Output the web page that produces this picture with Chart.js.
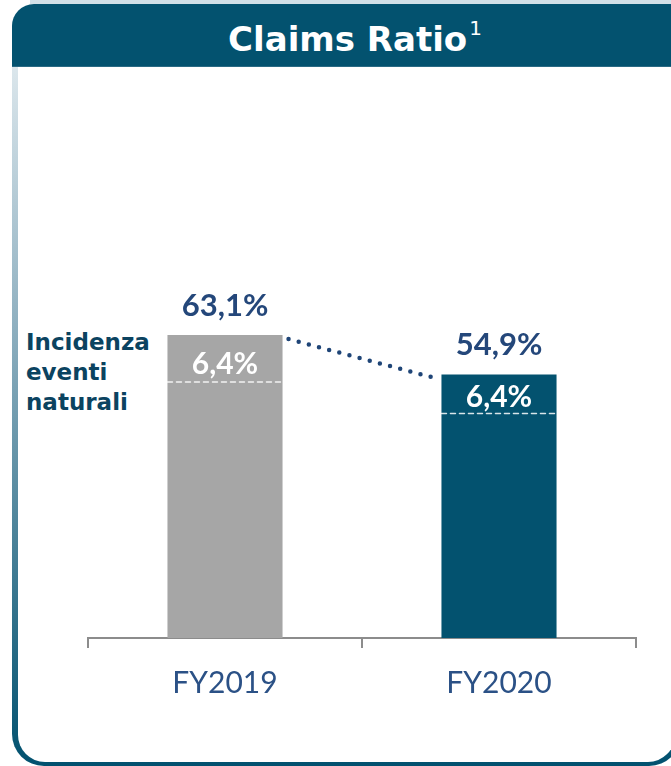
<!DOCTYPE html>
<html>
<head>
<meta charset="utf-8">
<script src="https://cdn.jsdelivr.net/npm/chart.js@4/dist/chart.umd.min.js"></script>
<style>
  html, body { margin: 0; padding: 0; background: #fff; }
  body { width: 671px; height: 766px; position: relative; overflow: hidden; font-family: Lato, "DejaVu Sans", sans-serif; }
  .frame {
    position: absolute; left: 12px; top: 30px; width: 669px; height: 736px;
    background: linear-gradient(to bottom, #e6eef2 0%, #8fb0c0 40%, #01516f 100%);
    border-radius: 0 0 32px 32px;
  }
  .frame-inner {
    position: absolute; left: 6px; top: 0; right: 6px; bottom: 4px;
    background: #fff; border-radius: 0 0 27px 27px;
  }
  .header {
    position: absolute; left: 12px; top: 4px; width: 680px; height: 62px;
    background: #03526f; border-top-left-radius: 22px;
    border-bottom: 1px solid #2a6a84;
  }
  .topline { position: absolute; left: 30px; top: 0; width: 660px; height: 4px; background: #d2e0e8; }
  .title {
    position: absolute; left: 0; top: 4px; width: 710px; height: 62px;
    text-align: center; color: #fff; font-family: "DejaVu Sans", sans-serif; font-weight: 700; font-size: 34px; line-height: 70px;
  }
  .title sup { font-size: 20px; font-weight: 400; vertical-align: 16px; line-height: 0; margin-left: 2px; }
  .side {
    position: absolute; left: 26px; top: 327px; color: #0b4360;
    font-family: "DejaVu Sans", sans-serif; font-weight: 700; font-size: 23px; line-height: 30px;
  }
  #wrap { position: absolute; left: 0; top: 0; width: 671px; height: 766px; }
</style>
</head>
<body>
<div class="frame"><div class="frame-inner"></div></div>
<div class="topline"></div>
<div class="header"></div>
<div class="title">Claims Ratio<sup>1</sup></div>
<div class="side">Incidenza<br>eventi<br>naturali</div>
<div id="wrap"><canvas id="chart"></canvas></div>
<script>
var years = ["FY2019", "FY2020"];
var claimsRatio = [63.1, 54.9];
var naturalEvents = [6.4, 6.4];
var barColors = ["#a6a6a6", "#03526f"];

function fmt(v) {
  return v.toFixed(1).replace(".", ",") + "%";
}

var barLabels = {
  id: "barLabels",
  afterDatasetsDraw: function(chart) {
    var ctx = chart.ctx;
    var bars = chart.getDatasetMeta(0).data;
    var innerOff = [29, 23];
    var dashOff = [47, 39];
    ctx.save();

    // dotted connector between bar tops
    var a = bars[0], b = bars[1];
    ctx.beginPath();
    ctx.strokeStyle = "#1f4577";
    ctx.lineWidth = 4.5;
    ctx.lineCap = "round";
    ctx.setLineDash([0, 10.5]);
    ctx.moveTo(a.x + a.width / 2 + 6, a.y + 4);
    ctx.lineTo(b.x - b.width / 2 - 1, b.y + 5);
    ctx.stroke();
    ctx.setLineDash([]);

    bars.forEach(function(bar, i) {
      ctx.textAlign = "center";
      ctx.textBaseline = "middle";
      ctx.fillStyle = "#24477a";
      ctx.font = "700 31px Lato";
      ctx.fillText(fmt(claimsRatio[i]), bar.x, bar.y - 29);

      ctx.fillStyle = "#ffffff";
      ctx.font = "700 30px Lato";
      ctx.fillText(fmt(naturalEvents[i]), bar.x, bar.y + innerOff[i]);

      ctx.beginPath();
      ctx.strokeStyle = "rgba(255,255,255,0.85)";
      ctx.lineWidth = 1.5;
      ctx.setLineDash([5, 4]);
      ctx.moveTo(bar.x - bar.width / 2, bar.y + dashOff[i]);
      ctx.lineTo(bar.x + bar.width / 2, bar.y + dashOff[i]);
      ctx.stroke();
      ctx.setLineDash([]);
    });
    ctx.restore();
  }
};

new Chart(document.getElementById("chart"), {
  type: "bar",
  data: {
    labels: years,
    datasets: [{
      data: claimsRatio,
      backgroundColor: barColors,
      borderWidth: 0,
      barPercentage: 0.42,
      categoryPercentage: 1.0
    }]
  },
  options: {
    responsive: true,
    maintainAspectRatio: false,
    animation: false,
    events: [],
    layout: { padding: { left: 88, right: 35, top: 110, bottom: 48 } },
    plugins: { legend: { display: false }, tooltip: { enabled: false } },
    scales: {
      y: { display: false, min: 0, max: 110 },
      x: {
        offset: true,
        grid: { offset: true, drawOnChartArea: false, drawTicks: true, tickLength: 10, color: "#8c8c8c", lineWidth: 2 },
        border: { display: true, color: "#8c8c8c", width: 2 },
        ticks: { color: "#2b5186", font: { family: "Lato", size: 30, weight: "400" }, padding: 17 }
      }
    }
  },
  plugins: [barLabels]
});
</script>
</body>
</html>
